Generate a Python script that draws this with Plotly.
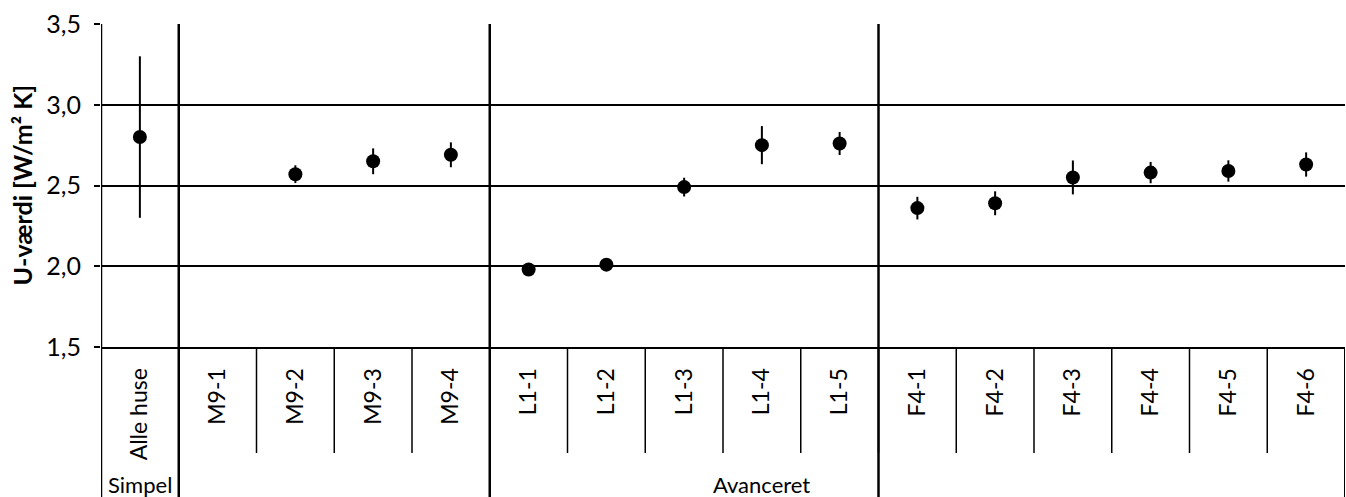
import plotly.graph_objects as go

# Categories (houses) and their group
categories = ["Alle huse",
              "M9-1", "M9-2", "M9-3", "M9-4",
              "L1-1", "L1-2", "L1-3", "L1-4", "L1-5",
              "F4-1", "F4-2", "F4-3", "F4-4", "F4-5", "F4-6"]

# U-values [W/m² K]; M9-1 has no measurement
u_values = [2.80,
            None, 2.57, 2.65, 2.69,
            1.98, 2.01, 2.49, 2.75, 2.76,
            2.36, 2.39, 2.55, 2.58, 2.59, 2.63]

# symmetric uncertainty
u_error = [0.50,
           0.0, 0.055, 0.08, 0.077,
           0.015, 0.015, 0.058, 0.118, 0.071,
           0.07, 0.074, 0.105, 0.066, 0.066, 0.075]

group_names = ["Simpel", "Avanceret"]
group_centers = [0, 8]           # category index for group label
group_bounds = [0.5, 4.5, 9.5]   # thick separators between groups

y_ticks = [1.5, 2.0, 2.5, 3.0, 3.5]
y_ticktext = ["1,5", "2,0", "2,5", "3,0", "3,5"]

FONT = "Lato"
n = len(categories)
x_idx = list(range(n))

fig = go.Figure()
fig.add_trace(go.Scatter(
    x=x_idx, y=u_values, mode="markers",
    marker=dict(color="black", size=14),
    error_y=dict(type="data", array=u_error, visible=True,
                 color="black", thickness=2, width=0),
    showlegend=False, hoverinfo="skip", cliponaxis=False,
))

BOTTOM = -150 / 323   # figure bottom in paper units
CAT_LINE = -106 / 323  # end of category separators

shapes = []
# category separators below the axis
for i in range(1, n):
    shapes.append(dict(type="line", xref="x", yref="paper",
                       x0=i - 0.5, x1=i - 0.5, y0=0, y1=CAT_LINE,
                       line=dict(color="black", width=1.5)))
# left axis line running down to the bottom
shapes.append(dict(type="line", xref="x", yref="paper",
                   x0=-0.5, x1=-0.5, y0=1, y1=BOTTOM,
                   line=dict(color="black", width=2.5)))
# group separators through plot and label rows
for b in group_bounds:
    shapes.append(dict(type="line", xref="x", yref="paper",
                       x0=b, x1=b, y0=1, y1=BOTTOM,
                       line=dict(color="black", width=2.5)))
# right edge of the label rows
shapes.append(dict(type="line", xref="x", yref="paper",
                   x0=n - 0.5, x1=n - 0.5, y0=0, y1=BOTTOM,
                   line=dict(color="black", width=2)))

annotations = []
for name, c in zip(group_names, group_centers):
    annotations.append(dict(text=name, x=c, y=-137 / 323, xref="x", yref="paper",
                            showarrow=False, xanchor="center", yanchor="middle",
                            font=dict(family=FONT, size=22, color="black")))
annotations.append(dict(text="<b>U-værdi [W/m² K]</b>", textangle=-90,
                        x=-80 / 1244, y=0.5, xref="paper", yref="paper",
                        showarrow=False, xanchor="center", yanchor="middle",
                        font=dict(family=FONT, size=25, color="black")))

fig.update_layout(
    width=1346, height=497,
    margin=dict(l=101, r=1, t=24, b=150),
    paper_bgcolor="white", plot_bgcolor="white",
    shapes=shapes, annotations=annotations,
    font=dict(family=FONT, color="black"),
    xaxis=dict(range=[-0.5, n - 0.5], tickmode="array", tickvals=x_idx,
               ticktext=categories, tickangle=-90, showgrid=False,
               zeroline=False, showline=True, linecolor="black", linewidth=2,
               ticks="", ticklabelstandoff=10,
               tickfont=dict(family=FONT, size=23, color="black")),
    yaxis=dict(range=[1.5, 3.5], tickmode="array", tickvals=y_ticks,
               ticktext=y_ticktext, showgrid=True, gridcolor="black",
               gridwidth=2, zeroline=False, ticks="outside", ticklen=6,
               tickwidth=2, tickcolor="black", ticklabelstandoff=8,
               tickfont=dict(family=FONT, size=25, color="black")),
)

fig.write_html("out.html")
